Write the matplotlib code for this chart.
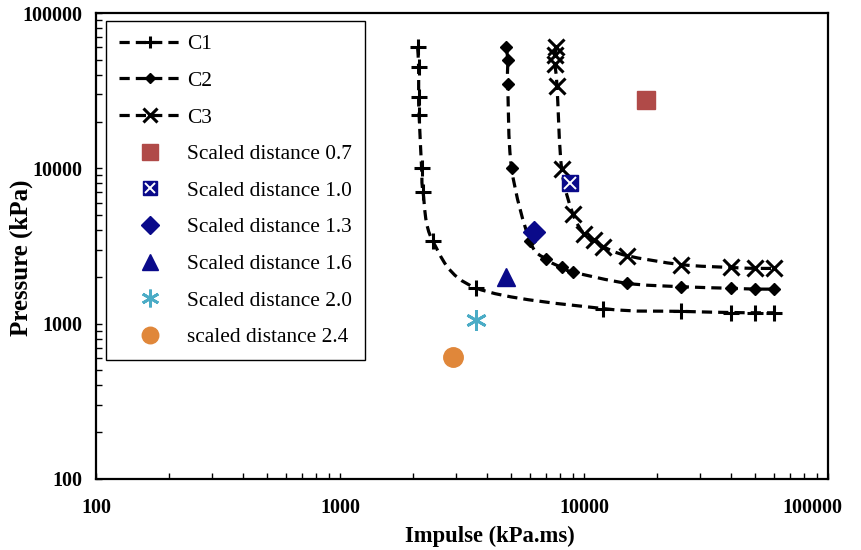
import numpy as np
import matplotlib
matplotlib.use("Agg")
import matplotlib.pyplot as plt
from matplotlib.path import Path
from matplotlib.patches import PathPatch
from matplotlib.lines import Line2D
from matplotlib.transforms import ScaledTranslation
from matplotlib.ticker import FixedLocator, LogLocator, NullFormatter, FuncFormatter

# ---------------- data ----------------
c1_impulse = [2080, 2100, 2100, 2110, 2160, 2190, 2400, 3600, 12000, 25000, 40000, 50000, 60000]
c1_pressure = [60000, 45000, 29000, 22000, 10000, 7000, 3400, 1700, 1250, 1200, 1180, 1175, 1175]

c2_impulse = [4800, 4870, 4870, 5050, 6000, 7000, 8100, 9000, 15000, 25000, 40000, 50000, 60000]
c2_pressure = [60000, 50000, 35000, 10000, 3400, 2600, 2300, 2150, 1820, 1730, 1690, 1670, 1670]

c3_impulse = [7700, 7600, 7600, 7750, 8100, 9000, 10000, 11000, 12000, 15000, 25000, 40000, 50000, 60000]
c3_pressure = [60000, 54000, 47000, 34000, 9900, 5100, 3800, 3450, 3130, 2740, 2400, 2300, 2270, 2270]

sd_labels = ["Scaled distance 0.7", "Scaled distance 1.0", "Scaled distance 1.3",
             "Scaled distance 1.6", "Scaled distance 2.0", "scaled distance 2.4"]
sd_impulse = [18000, 8800, 6250, 4800, 3600, 2900]
sd_pressure = [27500, 8100, 3900, 2000, 1050, 610]

x_ticks = [100, 1000, 10000, 100000]
y_ticks = [100, 1000, 10000, 100000]

# ---------------- style ----------------
plt.rcParams['font.family'] = ['Liberation Serif', 'DejaVu Serif']

fig = plt.figure(figsize=(8.62, 5.5), dpi=100)
ax = fig.add_axes([96 / 862, 1 - 479 / 550, 732 / 862, 466 / 550])
ax.set_xscale('log')
ax.set_yscale('log')
ax.set_xlim(x_ticks[0], x_ticks[-1])
ax.set_ylim(y_ticks[0], y_ticks[-1])

DASH = (0, (3.2, 1.9))
LW = 2.3


def smooth_path(xs, ys):
    """Excel-like smoothed line: Catmull-Rom Bezier in log-log space."""
    p = np.column_stack([np.log10(xs), np.log10(ys)])
    n = len(p)
    verts = [p[0]]
    codes = [Path.MOVETO]
    for i in range(n - 1):
        p0 = p[max(i - 1, 0)]
        p1 = p[i]
        p2 = p[i + 1]
        p3 = p[min(i + 2, n - 1)]
        c1 = p1 + (p2 - p0) / 6.0
        c2 = p2 - (p3 - p1) / 6.0
        verts += [c1, c2, p2]
        codes += [Path.CURVE4] * 3
    verts = 10 ** np.array(verts)
    return Path(verts, codes)


curves = [
    ("C1", c1_impulse, c1_pressure, dict(marker='+', markersize=11, markeredgewidth=2.2)),
    ("C2", c2_impulse, c2_pressure, dict(marker='D', markersize=6.3, markeredgewidth=1.0)),
    ("C3", c3_impulse, c3_pressure, dict(marker='x', markersize=12, markeredgewidth=2.2)),
]

handles = []
labels = []
for name, xs, ys, mk in curves:
    patch = PathPatch(smooth_path(xs, ys), facecolor='none', edgecolor='black',
                      linewidth=LW, linestyle=DASH, capstyle='butt', zorder=2)
    ax.add_patch(patch)
    ax.plot(xs, ys, linestyle='none', color='black', zorder=3, **mk)
    h = Line2D([], [], color='black', linewidth=LW, linestyle=DASH, **mk)
    handles.append(h)
    labels.append(name)

# scatter markers for scaled distances
sd_styles = [
    dict(marker='s', markersize=13, color='#B04A48', markeredgecolor='#B04A48'),
    dict(marker='s', markersize=12, color='#0A0A8A', markeredgecolor='#0A0A8A'),
    dict(marker='D', markersize=11, color='#0A0A8A', markeredgecolor='#0A0A8A'),
    dict(marker='^', markersize=13, color='#0A0A8A', markeredgecolor='#0A0A8A'),
    dict(marker=(6, 2, 0), markersize=15, color='#4BACC6', markeredgecolor='#4BACC6',
         markeredgewidth=2.0),
    dict(marker='o', markersize=14, color='#E0873A', markeredgecolor='#E0873A'),
]

for i, (lab, xv, yv, st) in enumerate(zip(sd_labels, sd_impulse, sd_pressure, sd_styles)):
    ln, = ax.plot([xv], [yv], linestyle='none', zorder=4, **st)
    if i == 1:
        xm, = ax.plot([xv], [yv], linestyle='none', marker='x', markersize=8,
                      markeredgewidth=1.4, color='white', zorder=5)
        handles.append((ln, xm))
    else:
        handles.append(ln)
    labels.append(lab)

leg = ax.legend(handles, labels, loc='upper left', bbox_to_anchor=(0.014, 0.982),
                borderaxespad=0, frameon=True, fancybox=False, shadow=False,
                fontsize=15.4, labelspacing=0.78, borderpad=0.6,
                handlelength=2.85, handletextpad=0.32, numpoints=1,
                markerscale=0.85)
leg.get_frame().set_edgecolor('black')
leg.get_frame().set_linewidth(1.0)
leg.get_frame().set_facecolor('white')
leg.get_frame().set_alpha(1)

# axes styling
for s in ax.spines.values():
    s.set_linewidth(1.6)
    s.set_color('black')

ax.xaxis.set_major_locator(FixedLocator(x_ticks))
ax.yaxis.set_major_locator(FixedLocator(y_ticks))
ax.xaxis.set_minor_locator(LogLocator(base=10, subs=np.arange(2, 10)))
ax.yaxis.set_minor_locator(LogLocator(base=10, subs=np.arange(2, 10)))
ax.xaxis.set_minor_formatter(NullFormatter())
ax.yaxis.set_minor_formatter(NullFormatter())
fmt = FuncFormatter(lambda v, p: f"{int(round(v))}")
ax.xaxis.set_major_formatter(fmt)
ax.yaxis.set_major_formatter(fmt)

ax.tick_params(which='both', direction='in', top=False, right=False, width=1.0, length=4.5)
ax.tick_params(axis='x', which='major', pad=14, labelsize=14.5)
ax.tick_params(axis='y', which='major', pad=10, labelsize=14.5)

ax.set_xlabel("Impulse (kPa.ms)", fontsize=16.3, fontweight='bold')
ax.set_ylabel("Pressure (kPa)", fontsize=18, fontweight='bold')
ax.xaxis.set_label_coords((490 - 96) / 732, -(526 - 479) / 466)
ax.yaxis.set_label_coords(-(96 - 33) / 732, (479 - 258) / 466)

fig.canvas.draw()
for t in ax.get_xticklabels() + ax.get_yticklabels():
    t.set_fontweight('bold')
last = ax.get_xticklabels()[-1]
last.set_transform(last.get_transform() + ScaledTranslation(-0.16, 0, fig.dpi_scale_trans))

fig.savefig("out.png", dpi=100)
